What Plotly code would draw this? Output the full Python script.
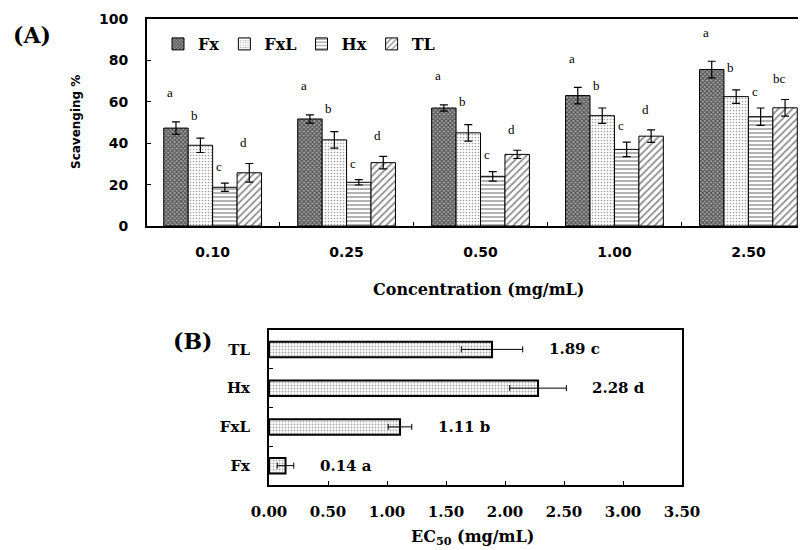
import plotly.graph_objects as go

# ---------------- data ----------------
concentrations = ["0.10", "0.25", "0.50", "1.00", "2.50"]
series_names = ["Fx", "FxL", "Hx", "TL"]

fx_vals = [47.3, 51.7, 57.0, 63.0, 75.6]
fx_err = [3.0, 2.0, 1.5, 4.0, 4.0]
fx_letters = ["a", "a", "a", "a", "a"]

fxl_vals = [39.0, 41.6, 45.0, 53.3, 62.5]
fxl_err = [3.5, 4.0, 4.0, 3.7, 3.3]
fxl_letters = ["b", "b", "b", "b", "b"]

hx_vals = [18.7, 21.1, 24.0, 37.0, 52.8]
hx_err = [2.0, 1.3, 2.3, 3.5, 4.2]
hx_letters = ["c", "c", "c", "c", "c"]

tl_vals = [25.7, 30.6, 34.6, 43.4, 57.1]
tl_err = [4.5, 3.0, 2.0, 3.0, 4.0]
tl_letters = ["d", "d", "d", "d", "bc"]

ec50_names = ["Fx", "FxL", "Hx", "TL"]
ec50_vals = [0.14, 1.11, 2.28, 1.89]
ec50_err = [0.07, 0.10, 0.24, 0.26]
ec50_letters = ["a", "b", "d", "c"]

y_ticks_a = [0, 20, 40, 60, 80, 100]
x_ticks_b = [0.0, 0.5, 1.0, 1.5, 2.0, 2.5, 3.0, 3.5]

# ---------------- styles ----------------
# page body has an 8px margin; the figure fills the rest of the 806x550 window
PAD = 8
W, H = 806 - PAD, 550 - PAD
SERIF = "DejaVu Serif"
SERIF_R = "Liberation Serif"
SANS = "DejaVu Sans"


def fx(px):
    return (px - PAD) / W


def fy(py):
    return 1 - (py - PAD) / H


patterns = {
    "Fx": dict(shape="x", fgcolor="#000000", bgcolor="#a8a8a8", size=3, solidity=0.6),
    "FxL": dict(shape=".", fgcolor="#444444", bgcolor="#ffffff", size=3, solidity=0.25),
    "Hx": dict(shape="-", fgcolor="#222222", bgcolor="#ffffff", size=4, solidity=0.35),
    "TL": dict(shape="/", fgcolor="#222222", bgcolor="#ffffff", size=5, solidity=0.35),
}
letter_offsets = {"Fx": 14, "FxL": 11, "Hx": 8, "TL": 10}

BARGAP = 0.27

fig = go.Figure()

all_series = [
    ("Fx", fx_vals, fx_err, fx_letters),
    ("FxL", fxl_vals, fxl_err, fxl_letters),
    ("Hx", hx_vals, hx_err, hx_letters),
    ("TL", tl_vals, tl_err, tl_letters),
]

for name, vals, errs, _ in all_series:
    fig.add_trace(go.Bar(
        name=name, x=concentrations, y=vals,
        marker=dict(color="white", pattern=patterns[name],
                    line=dict(color="black", width=1)),
        error_y=dict(type="data", array=errs, color="black", thickness=1.2, width=4),
        xaxis="x", yaxis="y",
    ))

# significance letters above bars
n = len(all_series)
bw = (1 - BARGAP) / n
annotations = []
for i, (name, vals, errs, letters) in enumerate(all_series):
    off = -(1 - BARGAP) / 2 + bw * (i + 0.5)
    for j, (v, e, t) in enumerate(zip(vals, errs, letters)):
        annotations.append(dict(
            x=j + off, y=v + e + letter_offsets[name], xref="x", yref="y",
            text=t, showarrow=False, xshift=-6,
            font=dict(family=SERIF_R, size=13, color="black"),
        ))

# panel B
fig.add_trace(go.Bar(
    x=ec50_vals, y=ec50_names, orientation="h", width=0.4, showlegend=False,
    marker=dict(color="white",
                pattern=dict(shape=".", fgcolor="#555555", bgcolor="#ffffff", size=3, solidity=0.35),
                line=dict(color="black", width=2)),
    error_x=dict(type="data", array=ec50_err, color="black", thickness=1, width=3),
    xaxis="x2", yaxis="y2",
))
for v, e, name, t in zip(ec50_vals, ec50_err, ec50_names, ec50_letters):
    annotations.append(dict(
        x=v + e, y=name, xref="x2", yref="y2", xanchor="left", xshift=24,
        text=f"{v:.2f} {t}", showarrow=False,
        font=dict(family=SERIF, size=15, color="black", weight="bold"),
    ))


# titles / panel labels
def paper_text(px, py, text, size, family=SERIF, angle=0, weight="bold"):
    return dict(x=fx(px), y=fy(py), xref="paper", yref="paper", text=text,
                xanchor="center", yanchor="middle",
                showarrow=False, textangle=angle,
                font=dict(family=family, size=size, color="black", weight=weight))


annotations += [
    paper_text(32, 35, "(A)", 22),
    paper_text(192, 341, "(B)", 22),
    paper_text(76, 122, "Scavenging %", 12, family=SANS, angle=-90),
    paper_text(478, 290, "Concentration (mg/mL)", 16),
    paper_text(472, 537, "EC<sub>50</sub> (mg/mL)", 16),
]

fig.update_layout(
    width=W, height=H,
    margin=dict(l=0, r=0, t=0, b=0, autoexpand=False),
    paper_bgcolor="white", plot_bgcolor="white",
    barmode="group", bargap=BARGAP, bargroupgap=0,
    showlegend=True,
    legend=dict(orientation="h", x=fx(158), y=fy(44), xanchor="left", yanchor="middle",
                font=dict(family=SERIF, size=16, color="black", weight="bold"),
                bgcolor="rgba(0,0,0,0)", itemwidth=30, traceorder="normal"),
    xaxis=dict(domain=[fx(147), 1.0], anchor="y", range=[-0.49, 4.43], automargin=False,
               showline=True, linecolor="black", linewidth=2, mirror=True,
               ticks="inside", tickson="boundaries", ticklen=4, tickcolor="black",
               showgrid=False, zeroline=False, ticklabelstandoff=12,
               tickfont=dict(family=SANS, size=14, color="black", weight="bold")),
    yaxis=dict(domain=[fy(226), fy(19)], anchor="x", range=[0, 100], automargin=False,
               tickvals=y_ticks_a, showline=True, linecolor="black", linewidth=2,
               ticks="inside", ticklen=4, tickcolor="black",
               showgrid=False, zeroline=False, ticklabelstandoff=14,
               tickfont=dict(family=SANS, size=14, color="black", weight="bold")),
    xaxis2=dict(domain=[fx(269), fx(682)], anchor="y2", range=[0, 3.5], automargin=False,
                tickvals=x_ticks_b, ticktext=[f"{t:.2f}" for t in x_ticks_b],
                showline=True, linecolor="black", linewidth=2, mirror=True,
                ticks="inside", ticklen=4, tickcolor="black",
                showgrid=False, zeroline=False, ticklabelstandoff=12,
                tickfont=dict(family=SERIF, size=15, color="black", weight="bold")),
    yaxis2=dict(domain=[fy(485), fy(330)], anchor="x2", range=[-0.5, 3.5], automargin=False,
                categoryorder="array", categoryarray=ec50_names,
                showline=True, linecolor="black", linewidth=2, mirror=True,
                ticks="inside", tickson="boundaries", ticklen=4, tickcolor="black",
                showgrid=False, zeroline=False, ticklabelstandoff=14,
                tickfont=dict(family=SERIF, size=15, color="black", weight="bold")),
    annotations=annotations,
)

fig.write_html("out.html")
